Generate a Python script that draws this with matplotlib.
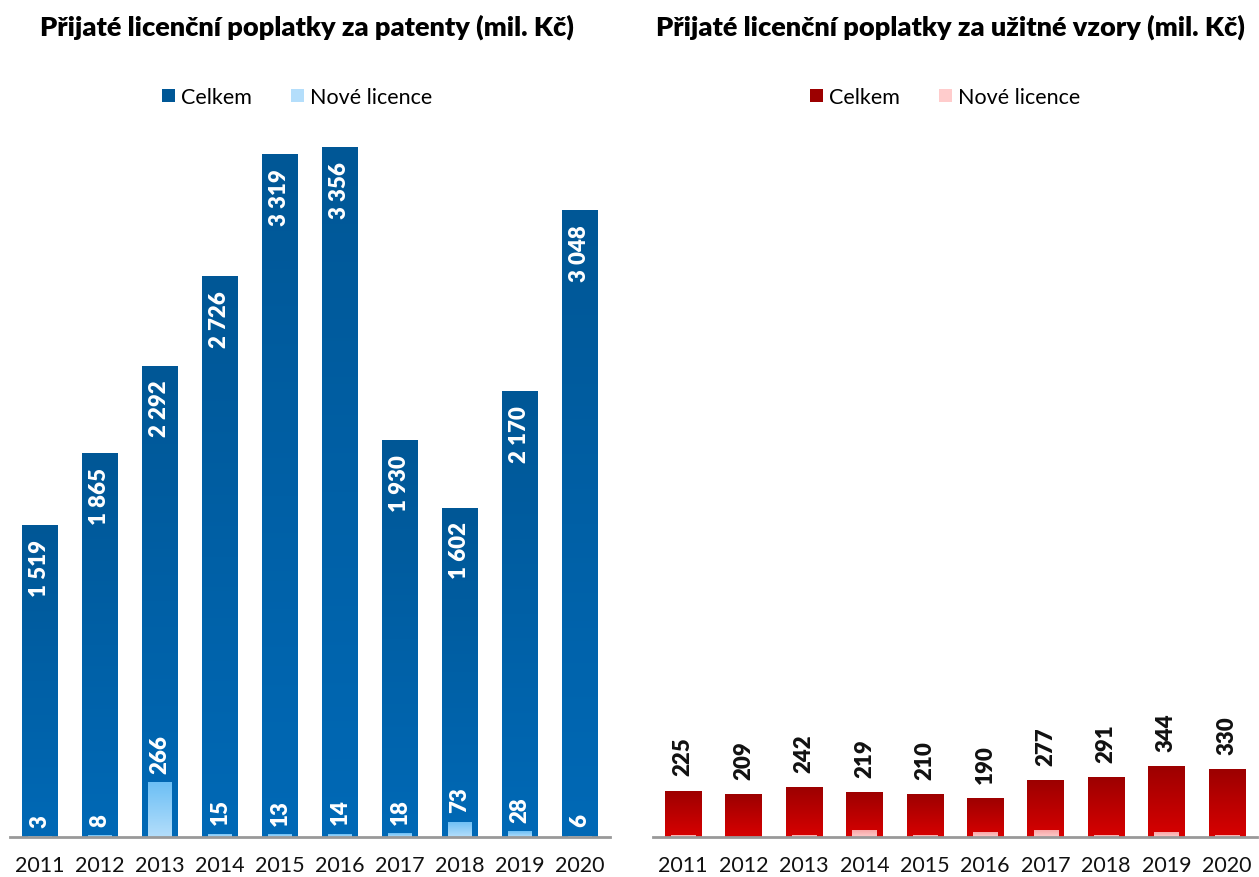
import matplotlib.pyplot as plt
import numpy as np
from matplotlib.colors import LinearSegmentedColormap

plt.rcParams['font.family'] = ['Lato', 'DejaVu Sans']

years = ['2011', '2012', '2013', '2014', '2015', '2016', '2017', '2018', '2019', '2020']
pat_total = [1519, 1865, 2292, 2726, 3319, 3356, 1930, 1602, 2170, 3048]
pat_new = [3, 8, 266, 15, 13, 14, 18, 73, 28, 6]
uv_total = [225, 209, 242, 219, 210, 190, 277, 291, 344, 330]
uv_new = [10, 2, 10, 35, 10, 25, 35, 10, 25, 10]

titles = ['Přijaté licenční poplatky za patenty (mil. Kč)',
          'Přijaté licenční poplatky za užitné vzory (mil. Kč)']
legend_labels = ['Celkem', 'Nové licence']

W, H = 1259, 878
fig = plt.figure(figsize=(W / 100, H / 100), dpi=100)


def gradient_bars(ax, bars, c_top, c_bottom):
    cmap = LinearSegmentedColormap.from_list('g', [c_bottom, c_top])
    grad = np.linspace(0, 1, 256).reshape(-1, 1)
    for b in bars:
        x0, w, h = b.get_x(), b.get_width(), b.get_height()
        if h <= 0:
            continue
        im = ax.imshow(grad, extent=[x0, x0 + w, 0, h], origin='lower',
                       aspect='auto', cmap=cmap, zorder=b.get_zorder())
        im.set_clip_path(b)


def panel(ax, total, new, cols, label_color, outside):
    x = np.arange(len(years))
    b1 = ax.bar(x, total, width=0.6, color=cols[0], zorder=2, label=legend_labels[0])
    gradient_bars(ax, b1, cols[0], cols[1])
    b2 = ax.bar(x, new, width=0.4, color=cols[3], zorder=3, label=legend_labels[1])
    gradient_bars(ax, b2, cols[2], cols[3])
    ax.set_xlim(-0.5, len(years) - 0.5)
    ax.set_ylim(0, 3443)
    for s in ['top', 'right', 'left']:
        ax.spines[s].set_visible(False)
    ax.spines['bottom'].set_color('#999999')
    ax.spines['bottom'].set_linewidth(2)
    ax.spines['bottom'].set_zorder(5)
    ax.set_yticks([])
    ax.set_xticks(x)
    ax.set_xticklabels(years, fontsize=15.5, color='#111111')
    ax.tick_params(axis='x', length=0, pad=13)
    fmt = lambda v: f'{v:,}'.replace(',', ' ')
    kw = dict(textcoords='offset points', rotation=90, ha='center', fontsize=16,
              fontweight='heavy', color=label_color, zorder=6)
    for xi, t, n in zip(x, total, new):
        if outside:
            ax.annotate(fmt(t), (xi, t), xytext=(0, 11), va='bottom', **kw)
        else:
            ax.annotate(fmt(t), (xi, t), xytext=(0, -10), va='top', **kw)
            ax.annotate(fmt(n), (xi, n), xytext=(0, 7), va='bottom', **kw)
    return b1, b2


ax1 = fig.add_axes([10 / W, 40 / H, 600 / W, 708 / H])
ax2 = fig.add_axes([653 / W, 40 / H, 604 / W, 708 / H])

h1 = panel(ax1, pat_total, pat_new, ['#005796', '#0069b6', '#6cbff5', '#b4defb'], 'white', False)
h2 = panel(ax2, uv_total, uv_new, ['#9c0000', '#d80000', '#f7a0a0', '#ffcccc'], '#111111', True)

fig.text(307 / W, 1 - 27 / H, titles[0], ha='center', va='center', fontsize=19.5, fontweight='heavy')
fig.text(950 / W, 1 - 27 / H, titles[1], ha='center', va='center', fontsize=19.5, fontweight='heavy')

for ax, hs, cx in [(ax1, h1, 297), (ax2, h2, 945)]:
    fig.legend(hs, legend_labels, loc='center', bbox_to_anchor=(cx / W, 1 - 98 / H),
               ncol=2, frameon=False, fontsize=15.5, handlelength=0.6, handleheight=0.6,
               handletextpad=0.3, columnspacing=1.8)

fig.savefig('out.png', dpi=100)
